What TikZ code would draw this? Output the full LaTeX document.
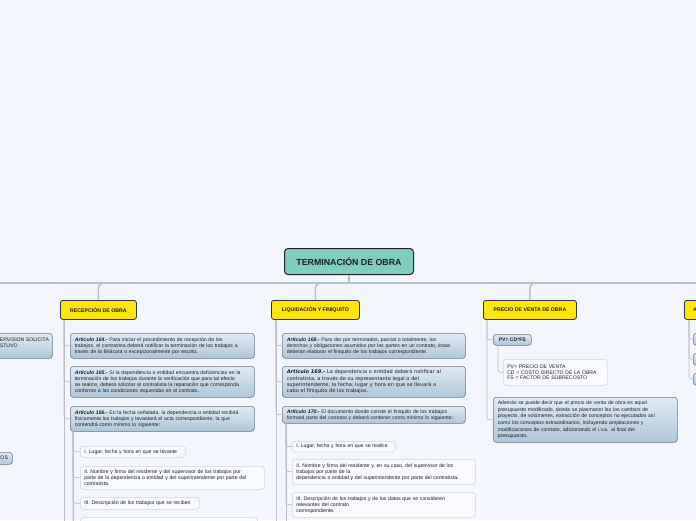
\documentclass[tikz,border=0pt]{standalone}
\usepackage{fontspec}
\setmainfont{Liberation Sans}
\newfontfamily\dvfont{DejaVu Sans}
\usetikzlibrary{calc,shadows}
\definecolor{bgc}{RGB}{244,246,253}
\definecolor{rootc}{RGB}{126,207,192}
\definecolor{yelc}{RGB}{254,229,14}
\definecolor{bluetop}{RGB}{224,235,245}
\definecolor{bluebot}{RGB}{174,198,217}
\definecolor{blueb}{RGB}{112,122,134}
\definecolor{leaff}{RGB}{249,250,254}
\definecolor{leafb}{RGB}{208,212,222}
\definecolor{linec}{RGB}{188,190,196}
\definecolor{txtc}{RGB}{30,30,30}
\newcommand\fsz[2]{\fontsize{#1}{#2}\selectfont}
\newcommand\art[1]{\textbf{\textit{#1}}}
\tikzset{
  rootbox/.style={draw=black!85, line width=1pt, fill=rootc, rounded corners=3.5pt,
    font=\bfseries\fsz{8.8}{10}, text=txtc, inner sep=0pt},
  topicbox/.style={draw=black!80, line width=0.8pt, fill=yelc, rounded corners=2.5pt,
    font=\bfseries\fsz{5.2}{6}, text=txtc, inner sep=0pt,
    drop shadow={shadow xshift=0.5pt, shadow yshift=-0.7pt, opacity=0.25}},
  artbox/.style={draw=blueb, line width=0.6pt, top color=bluetop, bottom color=bluebot,
    rounded corners=3pt, font=\fsz{5.15}{6.1}, text=txtc, align=left,
    inner xsep=4.5pt, inner ysep=0pt, anchor=north west,
    drop shadow={shadow xshift=0.4pt, shadow yshift=-0.6pt, opacity=0.18}},
  leafbox/.style={draw=leafb, line width=0.6pt, fill=leaff, rounded corners=3pt,
    font=\fsz{5.15}{6.1}, text=txtc, align=left, inner xsep=4pt, inner ysep=0pt,
    anchor=north west},
  mainline/.style={draw=linec, line width=1.5pt, rounded corners=5pt},
  conn/.style={draw=linec, line width=0.7pt, rounded corners=3pt},
  bare/.style={inner sep=0pt, text=txtc}
}
\begin{document}
\begin{tikzpicture}[x=1pt,y=-1pt]
\useasboundingbox (0,0) rectangle (696,520);
\fill[bgc] (0,0) rectangle (696,520);
\clip (0,0) rectangle (696,520);
\coordinate (h) at (0,283);

% ---------- root ----------
\node[rootbox, minimum width=129pt, minimum height=26pt, anchor=north west] (root) at (284,248) {TERMINACIÓN DE OBRA};

% ---------- topics ----------
\node[topicbox, minimum width=76pt, minimum height=19pt, anchor=north west] (rec) at (60,300) {RECEPCIÓN DE OBRA};
\node[topicbox, minimum width=88pt, minimum height=19pt, anchor=north west] (liq) at (271,300) {LIQUIDACIÓN Y FINIQUITO};
\node[topicbox, minimum width=93pt, minimum height=19pt, anchor=north west] (pre) at (483,300) {PRECIO DE VENTA DE OBRA};
\node[topicbox, minimum width=80pt, minimum height=19pt, anchor=north west] (t4) at (684,300) {};
\node[bare, anchor=west, font=\bfseries\fsz{5.2}{6}] (t4txt) at (693,309.5) {A};

% ---------- main connectors ----------
\draw[mainline] (-5,283) -- (705,283);
\draw[mainline] (root.south) -- (root.south |- h);
\draw[mainline] (rec.north) |- ($(rec.north |- h)+(10,0)$);
\draw[mainline] (liq.north) |- ($(liq.north |- h)+(10,0)$);
\draw[mainline] (pre.north) |- ($(pre.north |- h)+(10,0)$);

% ---------- left partial nodes ----------
\node[artbox, minimum width=112pt, minimum height=25pt, text width=100pt] (lft1) at (-60,333) {};
\node[bare, anchor=north west, align=left, font=\fsz{5.15}{6.1}] (lft1txt) at (-0.3,337.3) {ERVISION SOLICITA\\STUVO};
\node[artbox, minimum width=52pt, minimum height=12pt, text width=40pt] (lft2) at (-40,452) {};
\node[bare, anchor=west, font=\fsz{5.15}{6}] (lft2txt) at (0.3,458) {OS};

% ---------- RECEPCION ----------
\coordinate (rt) at ($(rec.south west)+(4,0)$);
\node[artbox, minimum height=25pt, text width=175pt] (a164) at (70,333)
 {\art{Artículo 164.-} Para iniciar el procedimiento de recepción de los\\
  trabajos, el contratista deberá notificar la terminación de los trabajos a\\
  través de la Bitácora o excepcionalmente por escrito.};
\node[artbox, minimum height=31pt, text width=175pt] (a165) at (70,366)
 {\art{Artículo 165.-} Si la dependencia o entidad encuentra deficiencias en la\\
  terminación de los trabajos durante la verificación que para tal efecto\\
  se realice, deberá solicitar al contratista la reparación que corresponda\\
  conforme a las condiciones requeridas en el contrato.};
\node[artbox, minimum height=25pt, text width=175pt] (a166) at (70,406)
 {\art{Artículo 166.-} En la fecha señalada, la dependencia o entidad recibirá\\
  físicamente los trabajos y levantará el acta correspondiente, la que\\
  contendrá como mínimo lo siguiente:};
\draw[conn] (rt) -- (rt |- 0,530);
\foreach \n in {a164,a165,a166} \draw[conn] (rt) |- (\n.west);

\coordinate (rt2) at ($(a166.south west)+(3,0)$);
\node[leafbox, minimum height=11pt, text width=97pt] (r1) at (80,446) {I. Lugar, fecha y hora en que se levante};
\node[leafbox, minimum height=23pt, text width=176pt] (r2) at (80,466)
 {II. Nombre y firma del residente y del supervisor de los trabajos por\\
  parte de la dependencia o entidad y del superintendente por parte del\\
  contratista.};
\node[leafbox, minimum height=12pt, text width=111pt] (r3) at (80,497) {III. Descripción de los trabajos que se reciben};
\node[leafbox, minimum height=14pt, text width=169pt] (r4) at (80,517) {};
\draw[conn] (rt2) -- (rt2 |- 0,530);
\foreach \n in {r1,r2,r3,r4} \draw[conn] (rt2) |- (\n.west);

% ---------- LIQUIDACION ----------
\coordinate (lt) at ($(liq.south west)+(5,0)$);
\node[artbox, minimum height=25pt, text width=174pt] (a168) at (282,333)
 {\art{Artículo 168.-} Para dar por terminados, parcial o totalmente, los\\
  derechos y obligaciones asumidos por las partes en un contrato, éstas\\
  deberán elaborar el finiquito de los trabajos correspondiente.};
\node[artbox, minimum height=31pt, text width=174pt, font=\dvfont\fsz{5.05}{6.4}] (a169) at (282,366)
 {\art{Artículo 169.-} La dependencia o entidad deberá notificar al\\
  contratista, a través de su representante legal o del\\
  superintendente, la fecha, lugar y hora en que se llevará a\\
  cabo el finiquito de los trabajos.};
\node[artbox, minimum height=17pt, text width=174pt] (a170) at (282,406)
 {\art{Artículo 170.-} El documento donde conste el finiquito de los trabajos\\
  formará parte del contrato y deberá contener como mínimo lo siguiente:};
\draw[conn] (lt) -- (lt |- 0,530);
\foreach \n in {a168,a169,a170} \draw[conn] (lt) |- (\n.west);

\coordinate (lt2) at ($(a170.south west)+(4,0)$);
\node[leafbox, minimum height=10.5pt, text width=95pt] (l1) at (292,441) {I. Lugar, fecha y hora en que se realice};
\node[leafbox, minimum height=25pt, text width=175pt] (l2) at (292,459)
 {II. Nombre y firma del residente y, en su caso, del supervisor de los\\
  trabajos por parte de la\\
  dependencia o entidad y del superintendente por parte del contratista.};
\node[leafbox, minimum height=25pt, text width=175pt] (l3) at (292,492)
 {III. Descripción de los trabajos y de los datos que se consideren\\
  relevantes del contrato\\
  correspondiente.};
\draw[conn] (lt2) -- (lt2 |- 0,530);
\foreach \n in {l1,l2,l3} \draw[conn] (lt2) |- (\n.west);

% ---------- PRECIO ----------
\coordinate (pt) at ($(pre.south west)+(4,0)$);
\node[artbox, minimum height=11pt, minimum width=38pt, align=center, font=\bfseries\fsz{5.1}{6}, inner xsep=2pt] (pv) at (493,334) {PV= CD*FS};
\node[artbox, minimum height=45pt, text width=175pt, font=\fsz{5.15}{6.6}] (ad) at (493,397)
 {Además se puede decir que el precio de venta de obra es aquel\\
  presupuesto modificado, donde se plasmaron las los cambios de\\
  proyecto, de volúmenes, extracción de conceptos no ejecutados así\\
  como los conceptos extraordinarios, incluyendo ampliaciones y\\
  modificaciones de contrato, adicionando el i.v.a. al final del\\
  presupuesto.};
\draw[conn] (pt) |- (pv.west);
\draw[conn] (pt) |- (ad.west);
\coordinate (pt2) at ($(pv.south west)+(5,0)$);
\node[leafbox, minimum height=26pt, text width=96pt, font=\fsz{5.1}{5.8}] (pvd) at (503,359)
 {PV= PRECIO DE VENTA\\CD = COSTO DIRECTO DE LA OBRA\\FS = FACTOR DE SOBRECOSTO};
\draw[conn] (pt2) |- (pvd.west);

% ---------- right partial ----------
\coordinate (gt) at ($(t4.south west)+(5,0)$);
\node[artbox, minimum height=12pt, minimum width=20pt] (g1) at (693,333) {};
\node[artbox, minimum height=12pt, minimum width=20pt] (g2) at (693,353) {};
\node[artbox, minimum height=12pt, minimum width=20pt] (g3) at (693,373) {};
\foreach \n in {g1,g2,g3} \draw[conn] (gt) |- (\n.west);
\end{tikzpicture}
\end{document}
